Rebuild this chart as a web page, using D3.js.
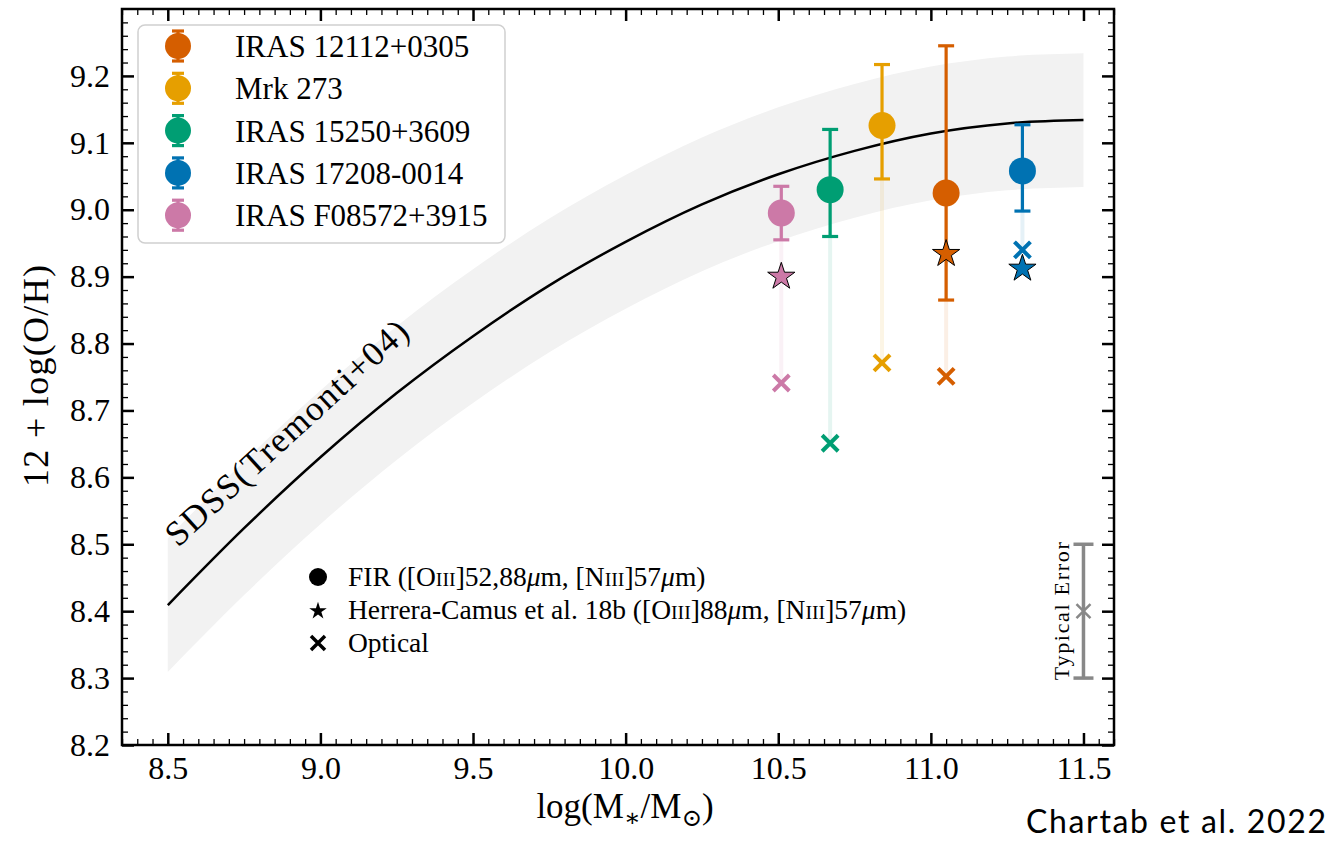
<!DOCTYPE html>
<html>
<head>
<meta charset="utf-8">
<script src="https://cdn.jsdelivr.net/npm/d3@7"></script>
<style>
  body { margin: 0; background: #fff; }
  svg text { font-family: "Liberation Serif", "DejaVu Serif", serif; fill: #000; }
</style>
</head>
<body>
<svg id="chart" width="1336" height="843"></svg>
<script>
// galaxies, FIR metallicity with asymmetric errors, optical and Herrera-Camus values
const galaxies = ['IRAS 12112+0305', 'Mrk 273', 'IRAS 15250+3609', 'IRAS 17208-0014', 'IRAS F08572+3915']
const colors = ['#d55e00', '#e69f00', '#009e73', '#0072b2', '#cc79a7']
const logMass = [11.05, 10.84, 10.67, 11.30, 10.51]
const firZ = [9.025, 9.126, 9.030, 9.058, 8.995]
const firErrHi = [0.220, 0.091, 0.090, 0.069, 0.040]
const firErrLo = [0.160, 0.080, 0.070, 0.060, 0.040]
const opticalZ = [8.751, 8.771, 8.651, 8.940, 8.741]
const herreraZ = [8.937, null, null, 8.915, 8.903]

// SDSS relation (Tremonti+04), with its band
const massGrid = [8.5, 8.75, 9.0, 9.25, 9.5, 9.75, 10.0, 10.25, 10.5, 10.75, 11.0, 11.25, 11.5]
const tremontiZ = [8.409, 8.524, 8.630, 8.726, 8.811, 8.887, 8.952, 9.008, 9.053, 9.088, 9.114, 9.129, 9.134]
const tremontiHi = [8.509, 8.624, 8.730, 8.826, 8.911, 8.987, 9.052, 9.108, 9.153, 9.188, 9.214, 9.229, 9.234]
const tremontiLo = [8.309, 8.424, 8.530, 8.626, 8.711, 8.787, 8.852, 8.908, 8.953, 8.988, 9.014, 9.029, 9.034]

// typical error marker
const typicalMass = 11.5
const typicalZ = 8.4
const typicalErr = 0.1

const xTicks = [8.5, 9.0, 9.5, 10.0, 10.5, 11.0, 11.5]
const yTicks = [8.2, 8.3, 8.4, 8.5, 8.6, 8.7, 8.8, 8.9, 9.0, 9.1, 9.2]

const svg = d3.select('#chart')
const plotL = 122, plotR = 1114, plotT = 9, plotB = 745

const x = d3.scaleLinear().domain([8.35, 11.6]).range([plotL, plotR])
const y = d3.scaleLinear().domain([8.2, 9.3]).range([plotB, plotT])

const xMinor = d3.range(167, 233).filter(i => i % 10 !== 0).map(i => i / 20)
const yMinor = d3.range(410, 466).filter(i => i % 5 !== 0).map(i => i / 50)

// band + curve
svg.append('path')
  .datum(massGrid)
  .attr('d', d3.area()
    .x(d => x(d))
    .y0((d, i) => y(tremontiLo[i]))
    .y1((d, i) => y(tremontiHi[i]))
    .curve(d3.curveMonotoneX))
  .attr('fill', '#f2f2f2')

svg.append('path')
  .datum(massGrid)
  .attr('d', d3.line()
    .x(d => x(d))
    .y((d, i) => y(tremontiZ[i]))
    .curve(d3.curveMonotoneX))
  .attr('fill', 'none')
  .attr('stroke', '#000')
  .attr('stroke-width', 2.5)

svg.append('text')
  .attr('transform', `translate(178,548) rotate(-42.5)`)
  .attr('font-size', 35)
  .attr('textLength', 316)
  .attr('lengthAdjust', 'spacing')
  .text('SDSS(Tremonti+04)')

// helpers for markers
const xMark = (sel, cx, cy, s, color, w) => {
  sel.append('path')
    .attr('d', `M${cx - s},${cy - s}L${cx + s},${cy + s}M${cx - s},${cy + s}L${cx + s},${cy - s}`)
    .attr('stroke', color).attr('stroke-width', w).attr('fill', 'none')
}
const errBar = (sel, cx, y0, y1, color, cap, w) => {
  sel.append('line').attr('x1', cx).attr('x2', cx).attr('y1', y0).attr('y2', y1)
    .attr('stroke', color).attr('stroke-width', w)
  ;[y0, y1].forEach(yy => sel.append('line')
    .attr('x1', cx - cap).attr('x2', cx + cap).attr('y1', yy).attr('y2', yy)
    .attr('stroke', color).attr('stroke-width', w))
}

const marks = svg.append('g')

// faint link between FIR and optical values
galaxies.forEach((g, i) => {
  marks.append('line')
    .attr('x1', x(logMass[i])).attr('x2', x(logMass[i]))
    .attr('y1', y(firZ[i])).attr('y2', y(opticalZ[i]))
    .attr('stroke', colors[i]).attr('stroke-opacity', 0.1).attr('stroke-width', 4)
})

galaxies.forEach((g, i) => {
  const cx = x(logMass[i])
  errBar(marks, cx, y(firZ[i] + firErrHi[i]), y(firZ[i] - firErrLo[i]), colors[i], 8, 3.2)
  marks.append('circle').attr('cx', cx).attr('cy', y(firZ[i])).attr('r', 13.5).attr('fill', colors[i])
  xMark(marks, cx, y(opticalZ[i]), 8, colors[i], 4)
})

galaxies.forEach((g, i) => {
  if (herreraZ[i] == null) return
  marks.append('path')
    .attr('d', d3.symbol(d3.symbolStar, 230)())
    .attr('transform', `translate(${x(logMass[i])},${y(herreraZ[i]) + 2})`)
    .attr('fill', colors[i]).attr('stroke', '#000').attr('stroke-width', 1)
})

// typical error
const tx = x(typicalMass)
errBar(marks, tx, y(typicalZ + typicalErr), y(typicalZ - typicalErr), '#888', 10, 3.5)
xMark(marks, tx, y(typicalZ), 7, '#888', 2.5)
svg.append('text')
  .attr('transform', `translate(1069,${y(typicalZ)}) rotate(-90)`)
  .attr('text-anchor', 'middle')
  .attr('font-size', 22)
  .attr('textLength', 138)
  .attr('lengthAdjust', 'spacing')
  .text('Typical Error')

// axes
const styleAxis = (g, w) => {
  g.select('.domain').remove()
  g.selectAll('.tick line').attr('stroke', '#000').attr('stroke-width', w)
  g.attr('font-family', null).attr('font-size', null)
  g.selectAll('.tick text').attr('font-size', 32).attr('fill', '#000')
}
const fmt = d3.format('.1f')
svg.append('g').attr('transform', `translate(0,${plotB})`)
  .call(d3.axisBottom(x).tickValues(xTicks).tickSize(-12).tickPadding(11).tickFormat(fmt))
  .call(g => styleAxis(g, 2.5))
svg.append('g').attr('transform', `translate(0,${plotB})`)
  .call(d3.axisBottom(x).tickValues(xMinor).tickSize(-6).tickFormat(''))
  .call(g => styleAxis(g, 1.3))
svg.append('g').attr('transform', `translate(0,${plotT})`)
  .call(d3.axisTop(x).tickValues(xTicks).tickSize(-12).tickFormat(''))
  .call(g => styleAxis(g, 2.5))
svg.append('g').attr('transform', `translate(0,${plotT})`)
  .call(d3.axisTop(x).tickValues(xMinor).tickSize(-6).tickFormat(''))
  .call(g => styleAxis(g, 1.3))
svg.append('g').attr('transform', `translate(${plotL},0)`)
  .call(d3.axisLeft(y).tickValues(yTicks).tickSize(-12).tickPadding(12).tickFormat(fmt))
  .call(g => styleAxis(g, 2.5))
svg.append('g').attr('transform', `translate(${plotL},0)`)
  .call(d3.axisLeft(y).tickValues(yMinor).tickSize(-6).tickFormat(''))
  .call(g => styleAxis(g, 1.3))
svg.append('g').attr('transform', `translate(${plotR},0)`)
  .call(d3.axisRight(y).tickValues(yTicks).tickSize(-12).tickFormat(''))
  .call(g => styleAxis(g, 2.5))
svg.append('g').attr('transform', `translate(${plotR},0)`)
  .call(d3.axisRight(y).tickValues(yMinor).tickSize(-6).tickFormat(''))
  .call(g => styleAxis(g, 1.3))

svg.append('rect')
  .attr('x', plotL).attr('y', plotT).attr('width', plotR - plotL).attr('height', plotB - plotT)
  .attr('fill', 'none').attr('stroke', '#000').attr('stroke-width', 2.5)

// rich text: parts of {t, sc (small caps), it (italic), sub}
const rich = (sel, parts, size) => {
  parts.forEach(p => {
    const ts = sel.append('tspan').text(p.t)
    if (p.sc) ts.attr('font-size', size * 0.72)
    if (p.it) ts.attr('font-style', 'italic')
    if (p.sub) ts.attr('font-size', size * 0.7).attr('dy', size * 0.22)
    if (p.back) ts.attr('dy', -size * 0.22)
  })
}

// axis titles
const xl = svg.append('text').attr('x', 625).attr('y', 818).attr('text-anchor', 'middle').attr('font-size', 35)
rich(xl, [{t: 'log(M'}, {t: '∗', sub: true}, {t: '/M', back: true}, {t: '⊙', sub: true}, {t: ')', back: true}], 35)

svg.append('text')
  .attr('transform', 'translate(48,376) rotate(-90)')
  .attr('text-anchor', 'middle')
  .attr('font-size', 36)
  .attr('textLength', 222)
  .attr('lengthAdjust', 'spacing')
  .text('12 + log(O/H)')

// galaxy legend
const leg = svg.append('g')
leg.append('rect').attr('x', 138).attr('y', 25).attr('width', 367).attr('height', 218).attr('rx', 7)
  .attr('fill', '#fff').attr('fill-opacity', 0.8).attr('stroke', '#d0d0d0').attr('stroke-width', 1.5)
galaxies.forEach((g, i) => {
  const ly = 46 + i * 42.3
  errBar(leg, 178, ly - 15, ly + 15, colors[i], 6, 3.2)
  leg.append('circle').attr('cx', 178).attr('cy', ly).attr('r', 13).attr('fill', colors[i])
  leg.append('text').attr('x', 235).attr('y', ly + 11).attr('font-size', 31).text(g)
})

// marker legend
const ml = svg.append('g')
ml.append('circle').attr('cx', 318).attr('cy', 577).attr('r', 9).attr('fill', '#000')
ml.append('path').attr('d', d3.symbol(d3.symbolStar, 95)()).attr('transform', 'translate(318,611)').attr('fill', '#000')
xMark(ml, 318, 643, 7, '#000', 3.5)
const mlText = [
  [{t: 'FIR ([O'}, {t: 'III', sc: true}, {t: ']52,88'}, {t: 'μ', it: true}, {t: 'm, [N'}, {t: 'III', sc: true}, {t: ']57'}, {t: 'μ', it: true}, {t: 'm)'}],
  [{t: 'Herrera-Camus et al. 18b ([O'}, {t: 'III', sc: true}, {t: ']88'}, {t: 'μ', it: true}, {t: 'm, [N'}, {t: 'III', sc: true}, {t: ']57'}, {t: 'μ', it: true}, {t: 'm)'}],
  [{t: 'Optical'}]
]
mlText.forEach((parts, i) => {
  const t = ml.append('text').attr('x', 348).attr('y', 586 + i * 33).attr('font-size', 27.5)
  rich(t, parts, 27.5)
})

// credit
svg.append('text')
  .attr('x', 1026).attr('y', 833)
  .attr('font-size', 32)
  .attr('textLength', 300)
  .attr('lengthAdjust', 'spacing')
  .style('font-family', 'Lato, "Open Sans", sans-serif')
  .text('Chartab et al. 2022')
</script>
</body>
</html>
